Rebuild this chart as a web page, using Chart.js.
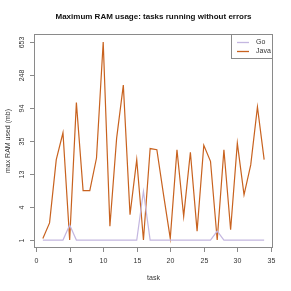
<!DOCTYPE html>
<html>
<head>
<meta charset="utf-8">
<script src="https://cdn.jsdelivr.net/npm/chart.js@4"></script>
<style>
  html, body { margin: 0; padding: 0; background: #fff; }
  #wrap { width: 291px; height: 291px; }
</style>
</head>
<body>
<div id="wrap"><canvas id="myChart" width="291" height="291"></canvas></div>
<script>
// max RAM used (mb) per task
const tasks = [1, 2, 3, 4, 5, 6, 7, 8, 9, 10, 11, 12, 13, 14, 15, 16, 17,
  18, 19, 20, 21, 22, 23, 24, 25, 26, 27, 28, 29, 30, 31, 32, 33, 34];
const goRam = [1, 1, 1, 1, 2.1, 1, 1, 1, 1, 1, 1, 1, 1, 1, 1, 7.3, 1,
  1, 1, 1, 1, 1, 1, 1, 1, 1, 1.6, 1, 1, 1, 1, 1, 1, 1];
const javaRam = [1.1, 2.3, 20, 45, 1, 110, 7.5, 7.5, 21, 653, 2, 38, 184, 3.2, 20, 1, 28,
  27, 6.5, 1.1, 27, 3, 25, 1.6, 31, 19, 1, 27, 1.7, 33, 6.5, 17, 97, 20];
const yTickLabels = [1, 4, 13, 35, 94, 248, 653];
const xTicks = [0, 5, 10, 15, 20, 25, 30, 35];

const seriesNames = ['Go', 'Java'];
const seriesColors = ['#c4b7e0', '#c8621f'];

// the y axis is log(1 + mb), ticks evenly spread between min and max
const lo = Math.log1p(1), hi = Math.log1p(653);
const yTicks = yTickLabels.map((v, i) => lo + (hi - lo) * i / 6);

function points(ys) {
  return tasks.map((t, i) => ({ x: t, y: Math.log1p(ys[i]) }));
}

const rAxes = {
  id: 'rAxes',
  afterDraw(chart) {
    const c = chart.ctx;
    const a = chart.chartArea;
    const xs = chart.scales.x, ys = chart.scales.y;
    c.save();
    c.strokeStyle = '#8a8a8a';
    c.lineWidth = 1;
    c.strokeRect(a.left + 0.5, a.top + 0.5, a.right - a.left - 1, a.bottom - a.top - 1);

    c.fillStyle = '#333';
    c.font = '7px "Liberation Sans", Arial, sans-serif';
    // x axis
    c.textAlign = 'center';
    c.textBaseline = 'middle';
    xTicks.forEach(t => {
      const px = Math.round(xs.getPixelForValue(t)) + 0.5;
      c.beginPath();
      c.moveTo(px, a.bottom);
      c.lineTo(px, a.bottom + 4);
      c.stroke();
      c.fillText(String(t), px, a.bottom + 13);
    });
    // y axis
    yTicks.forEach((t, i) => {
      const py = Math.round(ys.getPixelForValue(t)) + 0.5;
      c.beginPath();
      c.moveTo(a.left, py);
      c.lineTo(a.left - 4, py);
      c.stroke();
      c.save();
      c.translate(a.left - 12, py);
      c.rotate(-Math.PI / 2);
      c.fillText(String(yTickLabels[i]), 0, 0);
      c.restore();
    });
    // axis titles
    c.fillText('task', (a.left + a.right) / 2, 278);
    c.save();
    c.translate(8, (a.top + a.bottom) / 2);
    c.rotate(-Math.PI / 2);
    c.fillText('max RAM used (mb)', 0, 0);
    c.restore();
    // title
    c.fillStyle = '#111';
    c.font = 'bold 8px "Liberation Sans", Arial, sans-serif';
    c.fillText('Maximum RAM usage: tasks running without errors', (a.left + a.right) / 2, 17);

    // legend
    const lx = 231, ly = a.top, lw = a.right - lx, lh = 25;
    c.fillStyle = '#fff';
    c.fillRect(lx, ly, lw, lh);
    c.strokeStyle = '#8a8a8a';
    c.strokeRect(lx + 0.5, ly + 0.5, lw - 1, lh - 1);
    c.font = '7px "Liberation Sans", Arial, sans-serif';
    c.textAlign = 'left';
    seriesNames.forEach((name, i) => {
      const yy = ly + 8.5 + i * 9;
      c.strokeStyle = seriesColors[i];
      c.lineWidth = 1.3;
      c.beginPath();
      c.moveTo(lx + 6, yy);
      c.lineTo(lx + 18, yy);
      c.stroke();
      c.fillStyle = '#333';
      c.fillText(name, lx + 25, yy);
    });
    c.restore();
  }
};

new Chart(document.getElementById('myChart'), {
  type: 'line',
  data: {
    datasets: [
      { label: seriesNames[0], data: points(goRam), borderColor: seriesColors[0], borderWidth: 1.2, pointRadius: 0, fill: false, tension: 0 },
      { label: seriesNames[1], data: points(javaRam), borderColor: seriesColors[1], borderWidth: 1.2, pointRadius: 0, fill: false, tension: 0 }
    ]
  },
  options: {
    responsive: false,
    animation: false,
    layout: { padding: { left: 34, top: 34, right: 18, bottom: 43 } },
    plugins: { legend: { display: false }, title: { display: false }, tooltip: { enabled: false } },
    scales: {
      x: { type: 'linear', display: false, min: -0.32, max: 35.32 },
      y: { type: 'linear', display: false, min: lo - (hi - lo) * 0.04, max: hi + (hi - lo) * 0.04 }
    }
  },
  plugins: [rAxes]
});
</script>
</body>
</html>
